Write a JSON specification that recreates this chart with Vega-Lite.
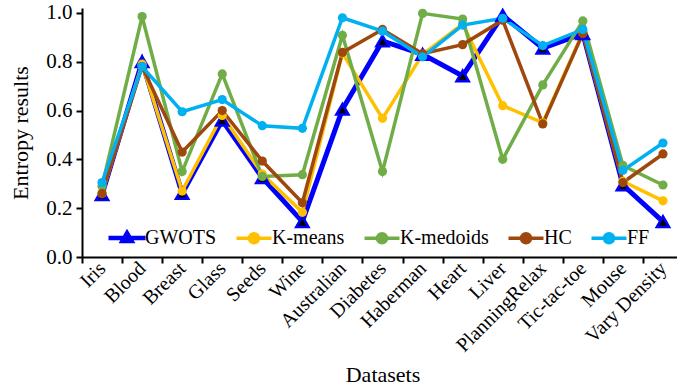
{
  "$schema": "https://vega.github.io/schema/vega-lite/v6.json",
  "width": 595,
  "height": 249,
  "autosize": {"type": "none"},
  "padding": {"left": 82, "top": 8, "right": 0, "bottom": 130},
  "background": "white",
  "config": {
    "view": {"stroke": null},
    "font": "Liberation Serif",
    "text": {"font": "Liberation Serif"},
    "axis": {
      "domainColor": "black", "domainWidth": 2,
      "tickColor": "black", "tickWidth": 2, "tickSize": 6,
      "labelColor": "black", "titleColor": "black",
      "labelFont": "Liberation Serif", "titleFont": "Liberation Serif",
      "labelFontSize": 20, "titleFontSize": 22, "titleFontWeight": "normal",
      "grid": false
    },
    "legend": {"labelFont": "Liberation Serif", "labelFontSize": 20, "labelFontWeight": "normal", "labelColor": "black"}
  },
  "data": {
    "values": [
      {"Dataset": "Iris", "GWOTS": 0.255, "K-means": 0.26, "K-medoids": 0.29, "HC": 0.26, "FF": 0.305},
      {"Dataset": "Blood", "GWOTS": 0.80, "K-means": 0.79, "K-medoids": 0.985, "HC": 0.78, "FF": 0.78},
      {"Dataset": "Breast", "GWOTS": 0.26, "K-means": 0.27, "K-medoids": 0.35, "HC": 0.43, "FF": 0.595},
      {"Dataset": "Glass", "GWOTS": 0.56, "K-means": 0.58, "K-medoids": 0.75, "HC": 0.60, "FF": 0.645},
      {"Dataset": "Seeds", "GWOTS": 0.325, "K-means": 0.34, "K-medoids": 0.33, "HC": 0.393, "FF": 0.538},
      {"Dataset": "Wine", "GWOTS": 0.145, "K-means": 0.183, "K-medoids": 0.337, "HC": 0.222, "FF": 0.527},
      {"Dataset": "Australian", "GWOTS": 0.605, "K-means": 0.835, "K-medoids": 0.908, "HC": 0.838, "FF": 0.98},
      {"Dataset": "Diabetes", "GWOTS": 0.885, "K-means": 0.568, "K-medoids": 0.35, "HC": 0.932, "FF": 0.925},
      {"Dataset": "Haberman", "GWOTS": 0.83, "K-means": 0.83, "K-medoids": 0.998, "HC": 0.833, "FF": 0.82},
      {"Dataset": "Heart", "GWOTS": 0.742, "K-means": 0.955, "K-medoids": 0.975, "HC": 0.87, "FF": 0.95},
      {"Dataset": "Liver", "GWOTS": 0.99, "K-means": 0.62, "K-medoids": 0.40, "HC": 0.97, "FF": 0.978},
      {"Dataset": "PlanningRelax", "GWOTS": 0.855, "K-means": 0.55, "K-medoids": 0.705, "HC": 0.545, "FF": 0.866},
      {"Dataset": "Tic-tac-toe", "GWOTS": 0.915, "K-means": 0.92, "K-medoids": 0.967, "HC": 0.915, "FF": 0.932},
      {"Dataset": "Mouse", "GWOTS": 0.295, "K-means": 0.31, "K-medoids": 0.375, "HC": 0.305, "FF": 0.355},
      {"Dataset": "Vary Density", "GWOTS": 0.145, "K-means": 0.23, "K-medoids": 0.295, "HC": 0.422, "FF": 0.467}
    ]
  },
  "transform": [
    {"fold": ["GWOTS", "K-means", "K-medoids", "HC", "FF"], "as": ["method", "value"]}
  ],
  "encoding": {
    "x": {
      "field": "Dataset", "type": "nominal", "sort": null,
      "scale": {"type": "band", "range": [0, 601], "paddingInner": 0, "paddingOuter": 0},
      "axis": {"title": "Datasets", "tickBand": "extent", "labelAngle": -45, "labelAlign": "right", "labelBaseline": "middle", "labelPadding": 2, "titlePadding": 9}
    },
    "y": {
      "field": "value", "type": "quantitative",
      "scale": {"domain": [0, 1.02], "nice": false, "zero": true},
      "axis": {"title": "Entropy results", "values": [0, 0.2, 0.4, 0.6, 0.8, 1.0], "format": ".1f", "labelPadding": 4, "labelFontSize": 21, "titlePadding": 13}
    }
  },
  "layer": [
    {
      "data": {"values": [{"edge": "top"}]},
      "mark": {"type": "rule", "color": "black", "strokeWidth": 2},
      "encoding": {"x": null, "y": {"datum": 1.02}}
    },
    {
      "mark": {"type": "line", "strokeJoin": "miter"},
      "encoding": {
        "color": {
          "field": "method", "type": "nominal",
          "scale": {"domain": ["GWOTS", "K-means", "K-medoids", "HC", "FF"], "range": ["#0000FF", "#FFC000", "#70AD47", "#9E480E", "#00B0F0"]},
          "legend": {
            "title": null, "orient": "none", "direction": "horizontal",
            "legendX": 22, "legendY": 220, "padding": 0,
            "labelFont": "Liberation Serif", "labelFontSize": 20, "labelFontWeight": "normal", "labelColor": "black",
            "symbolSize": 100, "symbolOffset": 13, "labelOffset": 8, "columnPadding": 12,
            "symbolType": "M-3.6,0H3.6M-0.9,0A0.9,0.9,0,1,1,0.9,0A0.9,0.9,0,1,1,-0.9,0Z",
            "encode": {
              "labels": {"update": {"font": {"signal": "'Liberation Serif'"}, "fontWeight": {"value": "normal"}}},
              "symbols": {
                "update": {
                  "shape": {"signal": "datum.value === 'GWOTS' ? 'M-3.7,0H3.7M0,-0.95L0.9,0.6L-0.9,0.6Z' : 'M-3.5,0H3.5M-0.9,0A0.9,0.9,0,1,1,0.9,0A0.9,0.9,0,1,1,-0.9,0Z'"},
                  "size": {"value": 100},
                  "fill": {"signal": "datum.value === 'GWOTS' ? 'black' : scale('color', datum.value)"},
                  "stroke": {"signal": "scale('color', datum.value)"},
                  "strokeWidth": {"signal": "datum.value === 'GWOTS' ? 4.5 : 3.5"},
                  "opacity": {"value": 1}
                }
              }
            }
          }
        },
        "strokeWidth": {"condition": {"test": "datum.method === 'GWOTS'", "value": 5}, "value": 3.5}
      }
    },
    {
      "mark": {"type": "point", "filled": true, "opacity": 1},
      "encoding": {
        "fill": {
          "field": "method", "type": "nominal", "legend": null,
          "scale": {"domain": ["GWOTS", "K-means", "K-medoids", "HC", "FF"], "range": ["black", "#FFC000", "#70AD47", "#9E480E", "#00B0F0"]}
        },
        "stroke": {
          "field": "method", "type": "nominal", "legend": null,
          "scale": {"domain": ["GWOTS", "K-means", "K-medoids", "HC", "FF"], "range": ["#0000FF", "#FFC000", "#70AD47", "#9E480E", "#00B0F0"]}
        },
        "shape": {"condition": {"test": "datum.method === 'GWOTS'", "value": "triangle-up"}, "value": "circle"},
        "size": {"condition": {"test": "datum.method === 'GWOTS'", "value": 150}, "value": 85},
        "strokeWidth": {"condition": {"test": "datum.method === 'GWOTS'", "value": 2.5}, "value": 0}
      }
    }
  ]
}
